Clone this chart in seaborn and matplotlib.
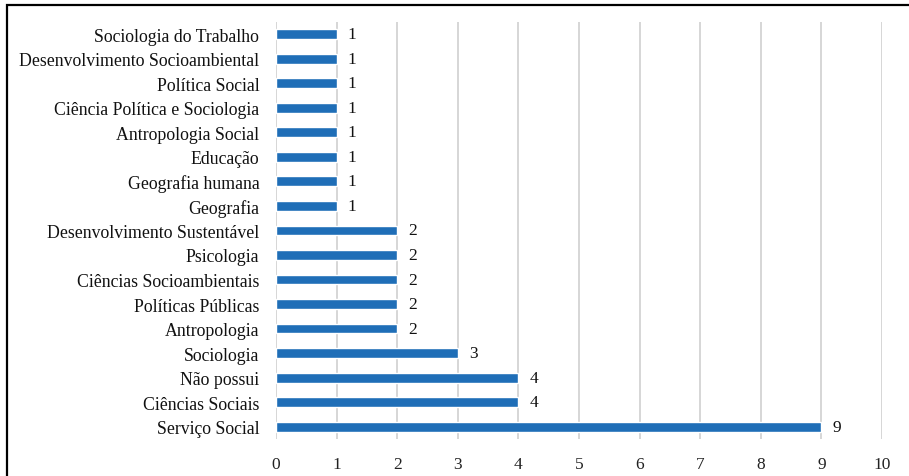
import seaborn as sns
import matplotlib.pyplot as plt
import pandas as pd
from matplotlib.patches import Rectangle

cursos = ["Sociologia do Trabalho", "Desenvolvimento Socioambiental", "Política Social",
          "Ciência Política e Sociologia", "Antropologia Social", "Educação",
          "Geografia humana", "Geografia", "Desenvolvimento Sustentável", "Psicologia",
          "Ciências Socioambientais", "Políticas Públicas", "Antropologia", "Sociologia",
          "Não possui", "Ciências Sociais", "Serviço Social"]
qtd = [1, 1, 1, 1, 1, 1, 1, 1, 2, 2, 2, 2, 2, 3, 4, 4, 9]
xticks = list(range(0, 11))

df = pd.DataFrame({"curso": cursos, "qtd": qtd})

sns.set_style("white")
plt.rcParams['font.family'] = ['Liberation Serif', 'DejaVu Serif']

fig = plt.figure(figsize=(9.09, 4.77), dpi=100)
ax = fig.add_axes([0.3036, 0.0776, 0.6667, 0.8744])

sns.barplot(data=df, x="qtd", y="curso", orient="h", color="#1F6EB7",
            width=0.4, saturation=1, ax=ax, zorder=3)

ax.set_xlim(0, 10)
ax.set_ylim(16.5, -0.5)
ax.set_xticks(xticks)
ax.xaxis.grid(True, color="#d3d3d3", linewidth=1.3, zorder=0)
ax.set_axisbelow(True)
for s in ax.spines.values():
    s.set_visible(False)
ax.set_xlabel("")
ax.set_ylabel("")
ax.tick_params(axis="x", length=0, pad=12, labelsize=12.5, colors="#222222")
ax.tick_params(axis="y", length=0, pad=12, labelsize=12.8, colors="#111111")

for i, v in enumerate(qtd):
    ax.text(v + 0.18, i, str(v), va="center", ha="left", fontsize=12.5, color="#111111")

# moldura da figura (esquerda e topo visiveis)
fig.patches.append(Rectangle((7 / 909, -0.1), 1.2, 1 - 6 / 477 + 0.1,
                             transform=fig.transFigure, fill=False,
                             edgecolor="black", linewidth=1.6))

fig.savefig("out.png", dpi=100)
